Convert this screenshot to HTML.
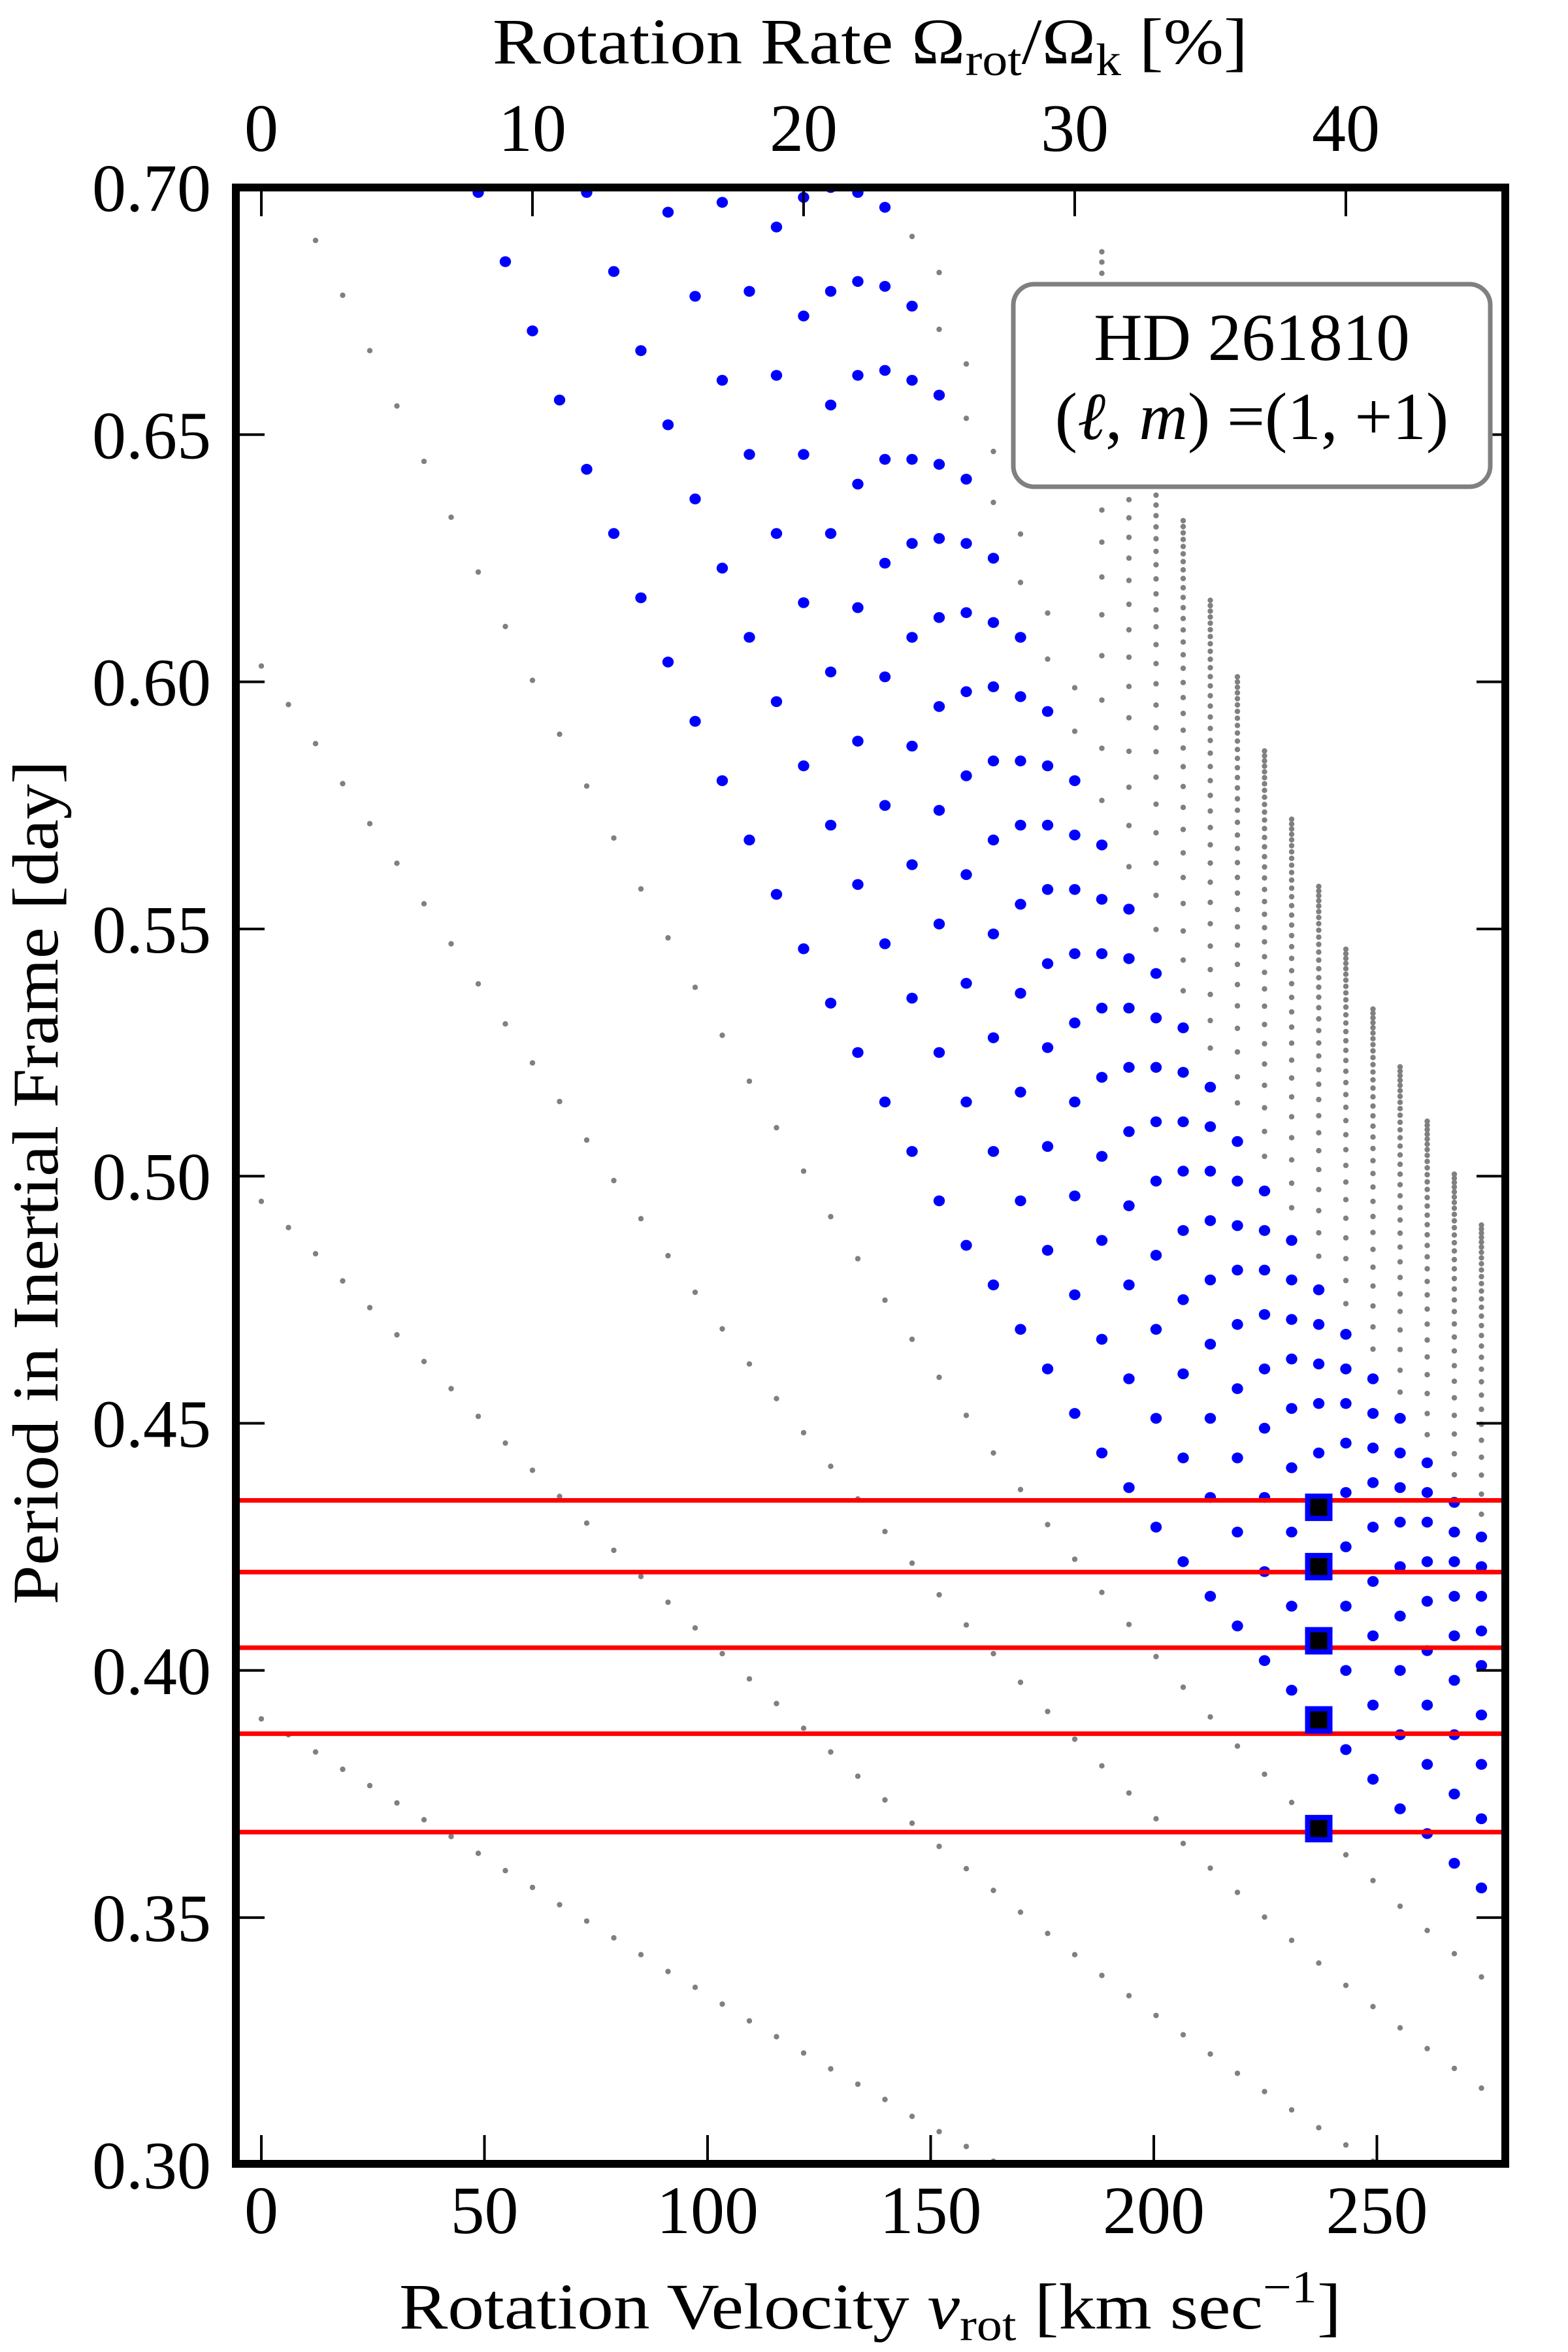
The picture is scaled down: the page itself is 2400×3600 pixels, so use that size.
<!DOCTYPE html>
<html><head><meta charset="utf-8"><title>HD 261810 period vs rotation</title>
<style>html,body{margin:0;padding:0;background:#fff}svg{display:block}</style></head>
<body>
<svg id="chart" xmlns="http://www.w3.org/2000/svg" width="2400" height="3600" viewBox="0 0 2400 3600" font-family="'Liberation Serif', serif">
<defs><clipPath id="plotclip"><rect x="361" y="287" width="1943" height="3025"/></clipPath></defs>
<rect x="0" y="0" width="2400" height="3600" fill="#fff"/>
<g id="plot" clip-path="url(#plotclip)"></g>
<g id="axes"></g>
<g>
  <rect x="1551" y="435" width="730" height="310" rx="32" ry="32" fill="#fff" stroke="#808080" stroke-width="7"/>
  <text x="1916" y="551" font-size="103" text-anchor="middle">HD 261810</text>
  <text x="1916" y="672" font-size="103" text-anchor="middle">(<tspan font-style="italic">ℓ</tspan>, <tspan font-style="italic">m</tspan>) =(1, +1)</text>
</g>
<text x="1332" y="97" font-size="100" text-anchor="middle" textLength="1156" lengthAdjust="spacingAndGlyphs">Rotation Rate Ω<tspan font-size="70" dy="18">rot</tspan><tspan dy="-18">/Ω</tspan><tspan font-size="70" dy="18">k</tspan><tspan dy="-18"> [%]</tspan></text>
<text x="1332" y="3564" font-size="100" text-anchor="middle" textLength="1442" lengthAdjust="spacingAndGlyphs">Rotation Velocity <tspan font-style="italic">v</tspan><tspan font-size="70" dy="18">rot</tspan><tspan dy="-18"> [km  sec</tspan><tspan font-size="70" dy="-40">−1</tspan><tspan dy="40">]</tspan></text>
<text transform="translate(88,1810) rotate(-90)" x="0" y="0" font-size="100" text-anchor="middle" textLength="1292" lengthAdjust="spacingAndGlyphs">Period in Inertial Frame [day]</text>
</svg>
<script>
// ---- data ----
const blueRates = [8,9,10,11,12,13,14,15,16,17,18,19,20,21,22,23,24,25,26,27,28,29,30,31,32,33,34,35,36,37,38,39,40,41,42,43,44,45];
const bluePeriods = [
[0.699],
[0.685],
[0.671],
[0.657],
[0.699,0.643],
[0.683,0.630],
[0.667,0.617],
[0.695,0.652,0.604],
[0.678,0.637,0.592],
[0.697,0.661,0.623,0.580],
[0.679,0.646,0.609,0.568],
[0.692,0.662,0.630,0.596,0.557],
[0.698,0.674,0.646,0.616,0.583,0.546],
[0.700,0.679,0.656,0.630,0.602,0.571,0.535],
[0.699,0.681,0.662,0.640,0.615,0.588,0.559,0.525],
[0.696,0.680,0.663,0.645,0.624,0.601,0.575,0.547,0.515],
[0.676,0.661,0.645,0.628,0.609,0.587,0.563,0.536,0.505],
[0.658,0.644,0.629,0.613,0.595,0.574,0.551,0.525,0.495],
[0.641,0.628,0.614,0.598,0.581,0.561,0.539,0.515,0.486],
[0.625,0.612,0.599,0.584,0.568,0.549,0.528,0.505,0.478],
[0.609,0.597,0.584,0.571,0.555,0.537,0.517,0.495,0.469],
[0.594,0.583,0.571,0.558,0.543,0.526,0.506,0.485,0.461],
[0.580,0.569,0.558,0.545,0.531,0.515,0.496,0.476,0.452],
[0.567,0.556,0.545,0.534,0.520,0.504,0.487,0.467,0.444],
[0.554,0.544,0.534,0.522,0.509,0.494,0.478,0.459,0.437],
[0.541,0.532,0.522,0.511,0.499,0.484,0.469,0.451,0.429],
[0.530,0.521,0.511,0.501,0.489,0.475,0.460,0.443,0.422],
[0.518,0.510,0.501,0.491,0.479,0.466,0.451,0.435,0.415],
[0.507,0.499,0.490,0.481,0.470,0.457,0.443,0.428,0.409],
[0.497,0.489,0.481,0.472,0.461,0.449,0.435,0.420,0.402],
[0.487,0.479,0.471,0.463,0.453,0.441,0.428,0.413,0.396],
[0.477,0.470,0.462,0.454,0.444,0.433,0.421,0.406,0.390],
[0.468,0.461,0.454,0.446,0.436,0.425,0.413,0.400,0.384],
[0.459,0.452,0.445,0.438,0.429,0.418,0.407,0.393,0.378],
[0.451,0.444,0.437,0.430,0.421,0.411,0.400,0.387,0.372],
[0.442,0.436,0.430,0.422,0.414,0.404,0.393,0.381,0.367],
[0.434,0.428,0.422,0.415,0.407,0.398,0.387,0.375,0.361],
[0.427,0.421,0.415,0.408,0.401,0.391,0.381,0.370,0.356]
];
const grayLineStartRates = [2,0,0,0,25,24];
const grayLineA = [0.6893,0.6782,0.6670,0.6558,0.6446,0.6333,0.6222,0.6112,0.6003,0.5894,0.5789,0.5684,0.5581,0.5482,0.5382,0.5285,0.5192,0.5098,0.5010,0.4918,0.4833,0.4749,0.4670,0.4593,0.4516,0.4440,0.4366,0.4295,0.4225,0.4158,0.4093,0.4028,0.3966,0.3906,0.3847,0.3790,0.3733,0.3678,0.3627,0.3575,0.3523,0.3474,0.3427,0.3380];
const grayLineB = [0.6032,0.5954,0.5875,0.5794,0.5713,0.5633,0.5551,0.5470,0.5389,0.5308,0.5229,0.5151,0.5073,0.4991,0.4914,0.4839,0.4765,0.4691,0.4620,0.4550,0.4481,0.4413,0.4347,0.4281,0.4217,0.4153,0.4092,0.4034,0.3976,0.3917,0.3861,0.3807,0.3752,0.3700,0.3650,0.3600,0.3551,0.3501,0.3454,0.3408,0.3363,0.3320,0.3277,0.3235,0.3195,0.3155];
const grayLineE = [0.4949,0.4896,0.4843,0.4788,0.4734,0.4679,0.4625,0.4570,0.4514,0.4460,0.4405,0.4352,0.4298,0.4243,0.4190,0.4138,0.4086,0.4034,0.3983,0.3933,0.3883,0.3835,0.3786,0.3738,0.3691,0.3644,0.3599,0.3555,0.3511,0.3468,0.3425,0.3383,0.3342,0.3302,0.3263,0.3224,0.3185,0.3148,0.3111,0.3075,0.3040,0.3007];
const grayLineF = [0.3902,0.3870,0.3835,0.3800,0.3767,0.3732,0.3698,0.3664,0.3630,0.3595,0.3561,0.3526,0.3493,0.3459,0.3425,0.3391,0.3359,0.3325,0.3291,0.3259,0.3226,0.3194,0.3163,0.3132,0.3098,0.3067,0.3037,0.3007];
const grayLineC = [0.6828,0.6643,0.6466,0.6299,0.6139,0.5988];
const grayLineD = [0.6901,0.6713,0.6533,0.6363,0.6201,0.6046,0.5900];
const grayColRates = [31,32,33,34,35,36,37,38,39,40,41,42,43,44,45];
const grayColTop = [0.687,0.666,0.649,0.6326,0.6165,0.601,0.586,0.5722,0.5586,0.5459,0.5338,0.5221,0.5111,0.5004,0.4901];
const grayColBottom = [0.576,0.5626,0.5499,0.5375,0.5259,0.5148,0.504,0.4936,0.4838,0.4742,0.465,0.4563,0.4477,0.4396,0.4316];
const grayColCount = [22,26,30,32,34,34,34,33,33,32,32,31,31,30,30];
const observedPeriods = [0.4344,0.4199,0.4046,0.3872,0.3673];
const modelMatchRate = 39;
const modelMatchPeriods = [0.433,0.421,0.406,0.390,0.368];
const xTicks = [0,50,100,150,200,250];
const topTicks = [0,10,20,30,40];
const yTicks = [0.30,0.35,0.40,0.45,0.50,0.55,0.60,0.65,0.70];

// ---- scales ----
const NS = 'http://www.w3.org/2000/svg';
const X0 = 400, PX_PER_KMS = 6.83, KMS_PER_PCT = 6.076;
const Y_TOP = 287, PX_PER_DAY = 7566, P_TOP = 0.70;
const PLOT_L = 361, PLOT_R = 2304, PLOT_T = 287, PLOT_B = 3312;
function xV(v){ return X0 + v*PX_PER_KMS; }
function xR(r){ return xV(r*KMS_PER_PCT); }
function yP(p){ return Y_TOP + (P_TOP - p)*PX_PER_DAY; }
function mk(tag, attrs, parent){
  const e = document.createElementNS(NS, tag);
  for (const k in attrs) e.setAttribute(k, attrs[k]);
  parent.appendChild(e);
  return e;
}
const plot = document.getElementById('plot');
const axes = document.getElementById('axes');

// gray diagonal lines
const grayGroup = mk('g', {fill:'#808080'}, plot);


[grayLineA, grayLineB, grayLineE, grayLineF, grayLineC, grayLineD].forEach(function(arr, li){
  arr.forEach(function(p, i){
    const c = mk('circle', {cx: xR(grayLineStartRates[li] + i).toFixed(1), cy: yP(p).toFixed(1), r: 4.2}, grayGroup);
    
    
  });
});
// gray vertical columns
const A = 1.7;
grayColRates.forEach(function(r, j){
  const n = grayColCount[j], top = grayColTop[j], bot = grayColBottom[j];
  for (let i = 0; i < n; i++){
    const u = i/(n-1);
    const f = (Math.exp(A*u)-1)/(Math.exp(A)-1);
    const p = top - (top-bot)*f;
    const c = mk('circle', {cx: xR(r).toFixed(1), cy: yP(p).toFixed(1), r: 4.2}, grayGroup);
    
    
  }
});
// blue model points
const blueGroup = mk('g', {fill:'#0000ff'}, plot);


blueRates.forEach(function(r, j){
  bluePeriods[j].forEach(function(p){
    const c = mk('ellipse', {cx: xR(r).toFixed(1), cy: yP(p).toFixed(1), rx: 8.7, ry: 8.3}, blueGroup);
    
    
  });
});
// observed periods (red lines)
observedPeriods.forEach(function(p){
  const l = mk('line', {x1: PLOT_L, x2: PLOT_R, y1: yP(p).toFixed(1), y2: yP(p).toFixed(1), stroke:'#ff0000', 'stroke-width': 7}, plot);
  
  
});
// matched model squares
modelMatchPeriods.forEach(function(p){
  const s = mk('rect', {x: (xR(modelMatchRate)-17).toFixed(1), y: (yP(p)-17).toFixed(1), width: 34, height: 34, fill:'#000', stroke:'#0000ff', 'stroke-width': 8}, plot);
  
  
});

// ---- axes ----
const TL = 44;
xTicks.forEach(function(v){
  const x = xV(v);
  const t = mk('line', {x1:x, x2:x, y1:PLOT_B, y2:PLOT_B-TL, stroke:'#000', 'stroke-width':4}, axes);
  
  
  const lb = mk('text', {x:x, y:3418, 'font-size':104, 'text-anchor':'middle'}, axes);
  lb.textContent = String(v);
  
  
});
topTicks.forEach(function(r){
  const x = xR(r);
  const t = mk('line', {x1:x, x2:x, y1:PLOT_T, y2:PLOT_T+TL, stroke:'#000', 'stroke-width':4}, axes);
  
  
  const lb = mk('text', {x:x, y:231, 'font-size':104, 'text-anchor':'middle'}, axes);
  lb.textContent = String(r);
  
  
});
yTicks.forEach(function(p){
  const y = yP(p);
  const t1 = mk('line', {x1:PLOT_L, x2:PLOT_L+TL, y1:y, y2:y, stroke:'#000', 'stroke-width':4}, axes);
  
  
  const t2 = mk('line', {x1:PLOT_R, x2:PLOT_R-TL, y1:y, y2:y, stroke:'#000', 'stroke-width':4}, axes);
  
  
  const lb = mk('text', {x:323, y:(y+36).toFixed(1), 'font-size':104, 'text-anchor':'end'}, axes);
  lb.textContent = p.toFixed(2);
  
  
});
const frame = mk('rect', {x:PLOT_L, y:PLOT_T, width:PLOT_R-PLOT_L, height:PLOT_B-PLOT_T, fill:'none', stroke:'#000', 'stroke-width':12}, axes);


</script>
</body></html>
